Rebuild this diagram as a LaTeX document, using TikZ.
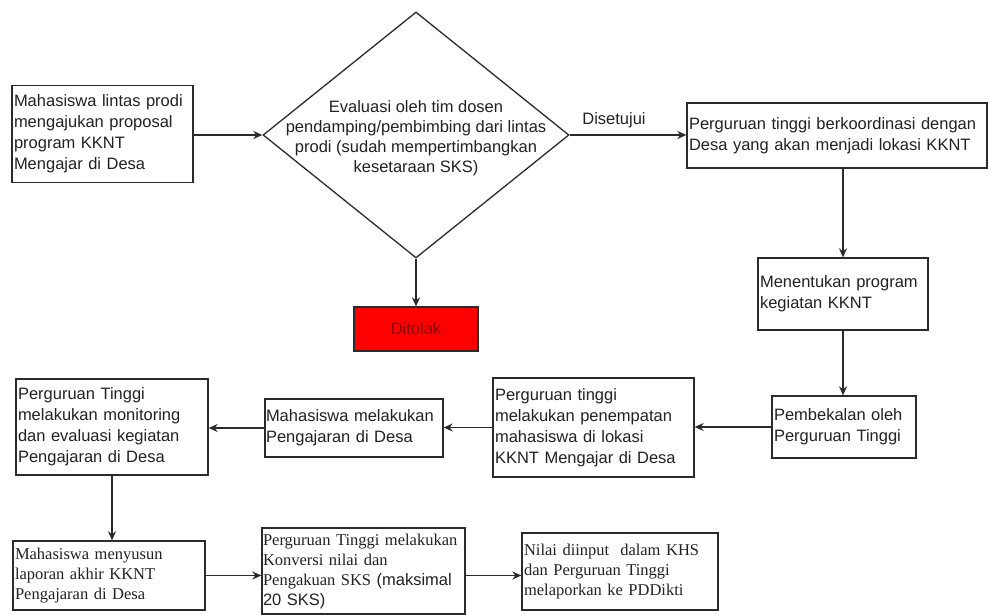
\documentclass[tikz,border=0pt]{standalone}
\usepackage{fontspec}
\setmainfont{Liberation Sans}
\newfontfamily\tnr{Liberation Serif}
\newfontfamily\arl{Liberation Sans}
\usetikzlibrary{shapes.geometric,arrows.meta}
\definecolor{linec}{HTML}{2B2B2B}
\definecolor{txtc}{HTML}{222222}
\definecolor{redfill}{HTML}{FF0000}
\definecolor{redtxt}{HTML}{8A0000}
\hyphenpenalty=10000
\exhyphenpenalty=10000
\hbadness=10000
\hfuzz=20pt
\begin{document}
\begin{tikzpicture}[x=1pt,y=-1pt,
  box/.style={draw=linec,line width=1.3pt,rectangle,inner sep=0pt,align=left,text=txtc,
    font=\fontsize{16.5}{21}\selectfont},
  sbox/.style={box,font=\tnr\fontsize{16.5}{20}\selectfont},
  arr/.style={draw=linec,line width=1.3pt,-{Stealth[length=9pt,width=8pt]}},
  lbl/.style={text=txtc,font=\fontsize{16.5}{20}\selectfont}]
\useasboundingbox (0,0) rectangle (990,615);
\fill[white] (0,0) rectangle (990,615);

\node[box,minimum width=181pt,minimum height=97pt,text width=177pt] (b1) at (102.5,134)
  {Mahasiswa lintas prodi\\mengajukan proposal\\program KKNT\\Mengajar di Desa};

\node[draw=linec,line width=1.3pt,diamond,minimum width=306pt,minimum height=246pt,inner sep=0pt] (d) at (416,135) {};
\node[lbl,align=center] (dt) at (416,138)
  {Evaluasi oleh tim dosen\\pendamping/pembimbing dari lintas\\prodi (sudah mempertimbangkan\\kesetaraan SKS)};

\node[box,minimum width=300pt,minimum height=65pt,text width=296pt] (b2) at (837,135.5)
  {Perguruan tinggi berkoordinasi dengan\\Desa yang akan menjadi lokasi KKNT};

\node[box,minimum width=124pt,minimum height=44pt,fill=redfill,align=center,text=redtxt] (r) at (416,329) {Ditolak};

\node[box,minimum width=170pt,minimum height=72pt,text width=166pt] (b3) at (843,294)
  {Menentukan program\\kegiatan KKNT};
\node[box,minimum width=144pt,minimum height=62pt,text width=140pt] (b4) at (844,427)
  {Pembekalan oleh\\Perguruan Tinggi};
\node[box,minimum width=201pt,minimum height=99pt,text width=197pt] (b5) at (593.5,427.5)
  {Perguruan tinggi\\melakukan penempatan\\mahasiswa di lokasi\\KKNT Mengajar di Desa};
\node[box,minimum width=178pt,minimum height=58pt,text width=176pt] (b6) at (354,428)
  {Mahasiswa melakukan\\Pengajaran di Desa};
\node[box,minimum width=192pt,minimum height=96pt,text width=188pt] (b7) at (112,427)
  {Perguruan Tinggi\\melakukan monitoring\\dan evaluasi kegiatan\\Pengajaran di Desa};

\node[sbox,minimum width=192pt,minimum height=69pt,text width=188pt] (b8) at (109,575.5)
  {Mahasiswa menyusun\\laporan akhir KKNT\\Pengajaran di Desa};
\node[sbox,minimum width=203pt,minimum height=86pt,text width=201pt] (b9) at (363.5,571)
  {Perguruan Tinggi melakukan\\Konversi nilai dan\\Pengakuan SKS {\arl(maksimal}\\{\arl 20 SKS)}};
\node[sbox,minimum width=196pt,minimum height=77pt,text width=192pt] (b10) at (620,571.5)
  {Nilai diinput\ \ dalam KHS\\dan Perguruan Tinggi\\melaporkan ke PDDikti};

\draw[arr] (b1.east |- d.west) -- (d.west);
\draw[arr] (d.east) -- node[lbl,above=3pt,pos=0.38] (ok) {Disetujui} (d.east -| b2.west);
\draw[arr] (d.south) -- (r.north);
\draw[arr] (b2.south -| b3.north) -- (b3.north);
\draw[arr] (b3.south) -- (b3.south |- b4.north);
\draw[arr] (b4.west) -- (b4.west -| b5.east);
\draw[arr] (b5.west) -- (b5.west -| b6.east);
\draw[arr] (b6.west) -- (b6.west -| b7.east);
\draw[arr] (b7.south) -- (b7.south |- b8.north);
\draw[arr] (b8.east) -- (b8.east -| b9.west);
\draw[arr] (b9.east |- b8.east) -- (b8.east -| b10.west);
\end{tikzpicture}
\end{document}
